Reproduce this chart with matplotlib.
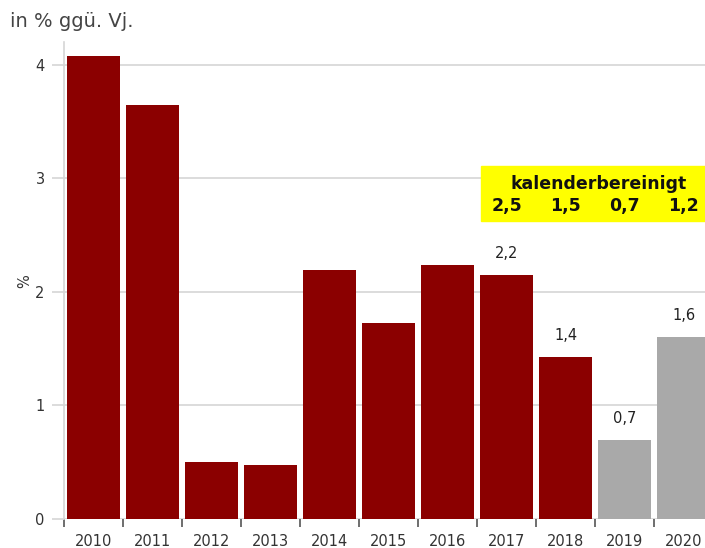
import matplotlib
matplotlib.use("Agg")
from matplotlib import pyplot as plt

# Daten
jahre = ['2010', '2011', '2012', '2013', '2014', '2015', '2016', '2017', '2018', '2019', '2020']
werte = [4.08, 3.65, 0.50, 0.48, 2.19, 1.73, 2.24, 2.15, 1.43, 0.70, 1.60]
prognose = [False] * 9 + [True, True]
label_idx = [7, 8, 9, 10]
label_txt = ['2,2', '1,4', '0,7', '1,6']
kal_werte = ['2,5', '1,5', '0,7', '1,2']

plt.rcParams['font.family'] = ['DejaVu Sans']

fig = plt.figure(figsize=(7.05, 5.48), dpi=100)
ax = fig.add_axes([0.0908, 0.0529, 0.9092, 0.87])

x = list(range(len(jahre)))
farben = ['#a9a9a9' if p else '#8b0000' for p in prognose]
ax.bar(x, werte, width=0.9, color=farben, zorder=2)

ax.set_yticks([0, 1, 2, 3, 4])
ax.set_yticklabels(['0', '1', '2', '3', '4'])
ax.grid(axis='y', color='#d6d6d6', linewidth=1.2, zorder=0)
ax.set_axisbelow(True)

ax.set_xticks(x)
ax.set_xticklabels(jahre)
ax.set_xticks([i - 0.5 for i in range(len(jahre) + 1)], minor=True)
# limits nach den ticks setzen
ax.set_xlim(-0.5, 10.36)
ax.set_ylim(0, 4.2)

ax.tick_params(axis='x', which='major', length=0, labelsize=10.5, colors='#333333', pad=11)
ax.tick_params(axis='x', which='minor', length=6, width=1.2, color='#555555', direction='out')
ax.tick_params(axis='y', length=9, width=1.2, color='#d6d6d6', labelsize=10.5, labelcolor='#333333', pad=5)

for s in ['top', 'right', 'bottom']:
    ax.spines[s].set_visible(False)
ax.spines['left'].set_color('#d6d6d6')
ax.spines['left'].set_linewidth(1.2)

ax.set_ylabel('%', fontsize=10.5, color='#333333', labelpad=2)

for i, t in zip(label_idx, label_txt):
    ax.annotate(t, (i, werte[i]), xytext=(0, 10), textcoords='offset points',
                ha='center', va='bottom', fontsize=10.5, color='#222222',
                bbox=dict(facecolor='white', edgecolor='none', pad=1.5), zorder=3)

# gelbe Box
ax.axvspan(6.56, 10.4, ymin=(519 - 220) / (4.2 * 113.75), ymax=(519 - 165) / (4.2 * 113.75),
           color='#ffff00', zorder=3)
ax.text(8.55, (519 - 183) / 113.75, 'kalenderbereinigt', ha='center', va='center',
        fontsize=12.5, fontweight='bold', color='#111111', zorder=4)
for i, t in zip(label_idx, kal_werte):
    ax.text(i, (519 - 205) / 113.75, t, ha='center', va='center',
            fontsize=12.5, fontweight='bold', color='#111111', zorder=4)

fig.text(0.014, 0.96, 'in % ggü. Vj.', fontsize=14, color='#444444', ha='left', va='center')

fig.savefig('out.png', dpi=100)
